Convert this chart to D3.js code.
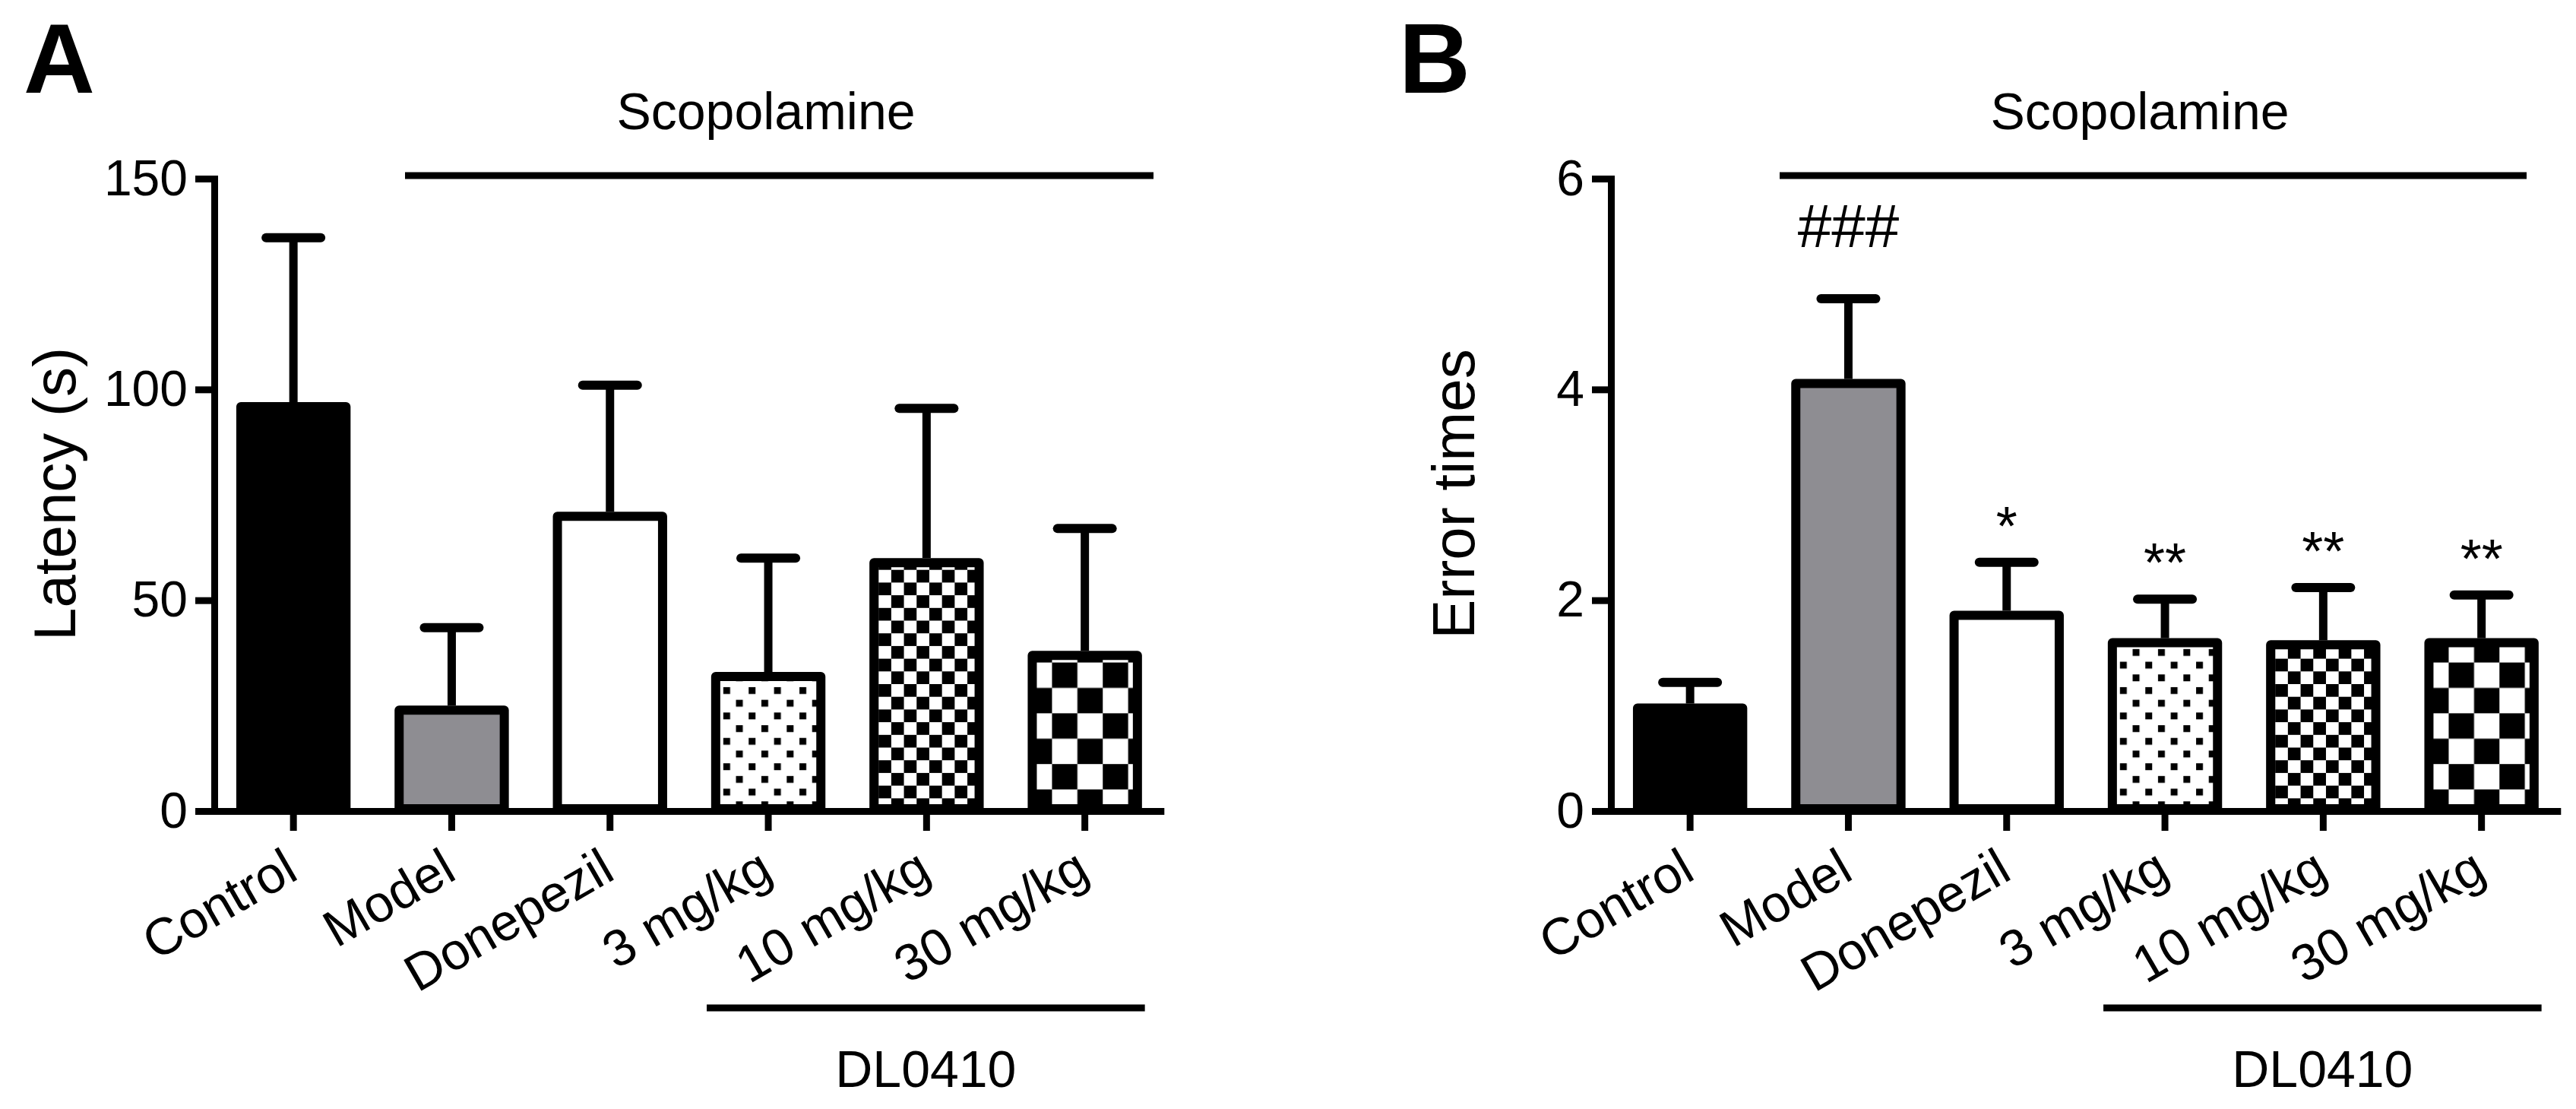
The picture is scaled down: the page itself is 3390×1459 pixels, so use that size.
<!DOCTYPE html>
<html>
<head>
<meta charset="utf-8">
<script src="https://d3js.org/d3.v7.min.js"></script>
<style>
  html, body { margin: 0; padding: 0; background: #fff; }
  svg { display: block; }
  text { font-family: "Liberation Sans", Arial, sans-serif; fill: #000; }
</style>
</head>
<body>
<div id="chart"></div>
<script>
var width = 3390;
var height = 1459;

// groups (same in both panels)
var categories = ["Control", "Model", "Donepezil", "3 mg/kg", "10 mg/kg", "30 mg/kg"];
var fills = ["solid", "gray", "white", "dots", "fineCheck", "coarseCheck"];

// panel A - latency (s), mean and upper SD
var latencyMean = [97, 25, 71, 33, 60, 38];
var latencySD = [39, 18.5, 30, 27, 35.5, 29];
var latencyTicks = [0, 50, 100, 150];

// panel B - error times
var errorMean = [1.02, 4.1, 1.9, 1.64, 1.62, 1.64];
var errorSD = [0.2, 0.76, 0.46, 0.37, 0.5, 0.41];
var errorTicks = [0, 2, 4, 6];
var errorMarks = ["", "###", "*", "**", "**", "**"];

var panels = [
  {id: "A", title: "Latency (s)", mean: latencyMean, sd: latencySD, ticks: latencyTicks, marks: null,
   x0: 282, letterX: 31, titleX: 99, scopStart: 533, scopEnd: 1518, scopText: 1008},
  {id: "B", title: "Error times", mean: errorMean, sd: errorSD, ticks: errorTicks, marks: errorMarks,
   x0: 2120, letterX: 1841, titleX: 1940, scopStart: 2342, scopEnd: 3325, scopText: 2816}
];

var yTop = 235, yBase = 1067, step = 208.3;
var axisW = 9, barStroke = 12;

var svg = d3.select("#chart")
  .append("svg")
  .attr("width", width)
  .attr("height", height);

svg.append("rect").attr("width", width).attr("height", height).attr("fill", "#fff");

var defs = svg.append("defs");

function makePatterns(id, xs) {
  // dots for 3 mg/kg
  var p = defs.append("pattern").attr("id", "dots-" + id)
    .attr("patternUnits", "userSpaceOnUse")
    .attr("x", xs[3]).attr("y", yBase)
    .attr("width", 33.4).attr("height", 33.4);
  p.append("rect").attr("width", 33.4).attr("height", 33.4).attr("fill", "#fff");
  p.append("rect").attr("x", 4).attr("y", 4).attr("width", 9).attr("height", 9).attr("fill", "#000");
  p.append("rect").attr("x", 20.7).attr("y", 20.7).attr("width", 9).attr("height", 9).attr("fill", "#000");

  // fine checkerboard for 10 mg/kg
  var f = defs.append("pattern").attr("id", "fineCheck-" + id)
    .attr("patternUnits", "userSpaceOnUse")
    .attr("x", xs[4]).attr("y", yBase)
    .attr("width", 33.4).attr("height", 33.4);
  f.append("rect").attr("width", 33.4).attr("height", 33.4).attr("fill", "#fff");
  f.append("rect").attr("width", 16.7).attr("height", 16.7).attr("fill", "#000");
  f.append("rect").attr("x", 16.7).attr("y", 16.7).attr("width", 16.7).attr("height", 16.7).attr("fill", "#000");

  // coarse checkerboard for 30 mg/kg
  var c = defs.append("pattern").attr("id", "coarseCheck-" + id)
    .attr("patternUnits", "userSpaceOnUse")
    .attr("x", xs[5] + 20).attr("y", yBase + 5)
    .attr("width", 66.8).attr("height", 66.8);
  c.append("rect").attr("width", 66.8).attr("height", 66.8).attr("fill", "#fff");
  c.append("rect").attr("width", 33.4).attr("height", 33.4).attr("fill", "#000");
  c.append("rect").attr("x", 33.4).attr("y", 33.4).attr("width", 33.4).attr("height", 33.4).attr("fill", "#000");
}

function fillFor(kind, id) {
  if (kind == "solid") return "#000";
  if (kind == "gray") return "#8e8d92";
  if (kind == "white") return "#fff";
  return "url(#" + kind + "-" + id + ")";
}

panels.forEach(function(pn) {
  var g = svg.append("g");

  var x = d3.scaleBand()
    .domain(categories)
    .range([pn.x0, pn.x0 + step * categories.length])
    .paddingInner(0.278)
    .paddingOuter(0.139);

  var y = d3.scaleLinear()
    .domain([0, pn.ticks[pn.ticks.length - 1]])
    .range([yBase, yTop]);

  var bw = x.bandwidth();
  var cx = function(c) { return x(c) + bw / 2; };

  makePatterns(pn.id, categories.map(function(c) { return x(c) + barStroke; }));

  // bars
  g.selectAll(".bar")
    .data(categories)
    .enter()
    .append("rect")
    .attr("class", "bar")
    .attr("x", function(c) { return x(c) + barStroke / 2; })
    .attr("width", bw - barStroke)
    .attr("y", function(c, i) { return y(pn.mean[i]) + barStroke / 2; })
    .attr("height", function(c, i) { return yBase - y(pn.mean[i]) - barStroke / 2 - 3; })
    .attr("fill", function(c, i) { return fillFor(fills[i], pn.id); })
    .attr("stroke", "#000")
    .attr("stroke-width", barStroke)
    .attr("stroke-linejoin", "round");

  // error bars (upper only)
  g.selectAll(".err")
    .data(categories)
    .enter()
    .append("line")
    .attr("x1", cx).attr("x2", cx)
    .attr("y1", function(c, i) { return y(pn.mean[i]); })
    .attr("y2", function(c, i) { return y(pn.mean[i] + pn.sd[i]); })
    .attr("stroke", "#000")
    .attr("stroke-width", 11);

  g.selectAll(".cap")
    .data(categories)
    .enter()
    .append("line")
    .attr("x1", function(c) { return cx(c) - 36; })
    .attr("x2", function(c) { return cx(c) + 36; })
    .attr("y1", function(c, i) { return y(pn.mean[i] + pn.sd[i]); })
    .attr("y2", function(c, i) { return y(pn.mean[i] + pn.sd[i]); })
    .attr("stroke", "#000")
    .attr("stroke-width", 12)
    .attr("stroke-linecap", "round");

  // significance marks
  if (pn.marks) {
    g.selectAll(".mark")
      .data(categories)
      .enter()
      .append("text")
      .attr("x", cx)
      .attr("y", function(c, i) {
        var top = y(pn.mean[i] + pn.sd[i]);
        return pn.marks[i].charAt(0) == "#" ? top - 68 : top - 23;
      })
      .attr("text-anchor", "middle")
      .attr("font-size", function(c, i) { return pn.marks[i].charAt(0) == "#" ? 80 : 72; })
      .text(function(c, i) { return pn.marks[i]; });
  }

  // y axis
  var yAxis = d3.axisLeft(y).tickValues(pn.ticks).tickFormat(d3.format("d"))
    .tickSize(25).tickSizeOuter(0).tickPadding(10);
  var ya = g.append("g").attr("transform", "translate(" + pn.x0 + ",0)").call(yAxis);
  ya.select(".domain").attr("stroke-width", axisW).attr("stroke-linecap", "square");
  ya.selectAll(".tick line").attr("stroke-width", axisW);
  ya.selectAll(".tick text").attr("font-size", 66).attr("font-family", "Liberation Sans, Arial, sans-serif");

  // x axis
  var xAxis = d3.axisBottom(x).tickSize(26).tickSizeOuter(0);
  var xa = g.append("g").attr("transform", "translate(0," + yBase + ")").call(xAxis);
  xa.select(".domain").attr("stroke-width", axisW);
  xa.selectAll(".tick line").attr("stroke-width", axisW);
  xa.selectAll(".tick text")
    .attr("x", 0).attr("y", 0).attr("dy", null)
    .attr("font-size", 68)
    .attr("font-family", "Liberation Sans, Arial, sans-serif")
    .attr("text-anchor", "end")
    .attr("transform", "translate(9,88) rotate(-30)");

  // axis title
  g.append("text")
    .attr("transform", "translate(" + pn.titleX + ",650) rotate(-90)")
    .attr("text-anchor", "middle")
    .attr("font-size", 78)
    .text(pn.title);

  // panel letter
  g.append("text")
    .attr("x", pn.letterX).attr("y", 122)
    .attr("font-size", 130)
    .attr("font-weight", "bold")
    .text(pn.id);

  // Scopolamine bracket
  g.append("line")
    .attr("x1", pn.scopStart).attr("x2", pn.scopEnd)
    .attr("y1", 231).attr("y2", 231)
    .attr("stroke", "#000").attr("stroke-width", axisW);
  g.append("text")
    .attr("x", pn.scopText).attr("y", 170)
    .attr("text-anchor", "middle")
    .attr("font-size", 68)
    .text("Scopolamine");

  // DL0410 bracket under the three dose groups
  var dl0 = cx(categories[3]) - 81, dl1 = cx(categories[5]) + 79;
  g.append("line")
    .attr("x1", dl0).attr("x2", dl1)
    .attr("y1", 1326).attr("y2", 1326)
    .attr("stroke", "#000").attr("stroke-width", axisW);
  g.append("text")
    .attr("x", (dl0 + dl1) / 2).attr("y", 1430)
    .attr("text-anchor", "middle")
    .attr("font-size", 68)
    .text("DL0410");
});
</script>
</body>
</html>
